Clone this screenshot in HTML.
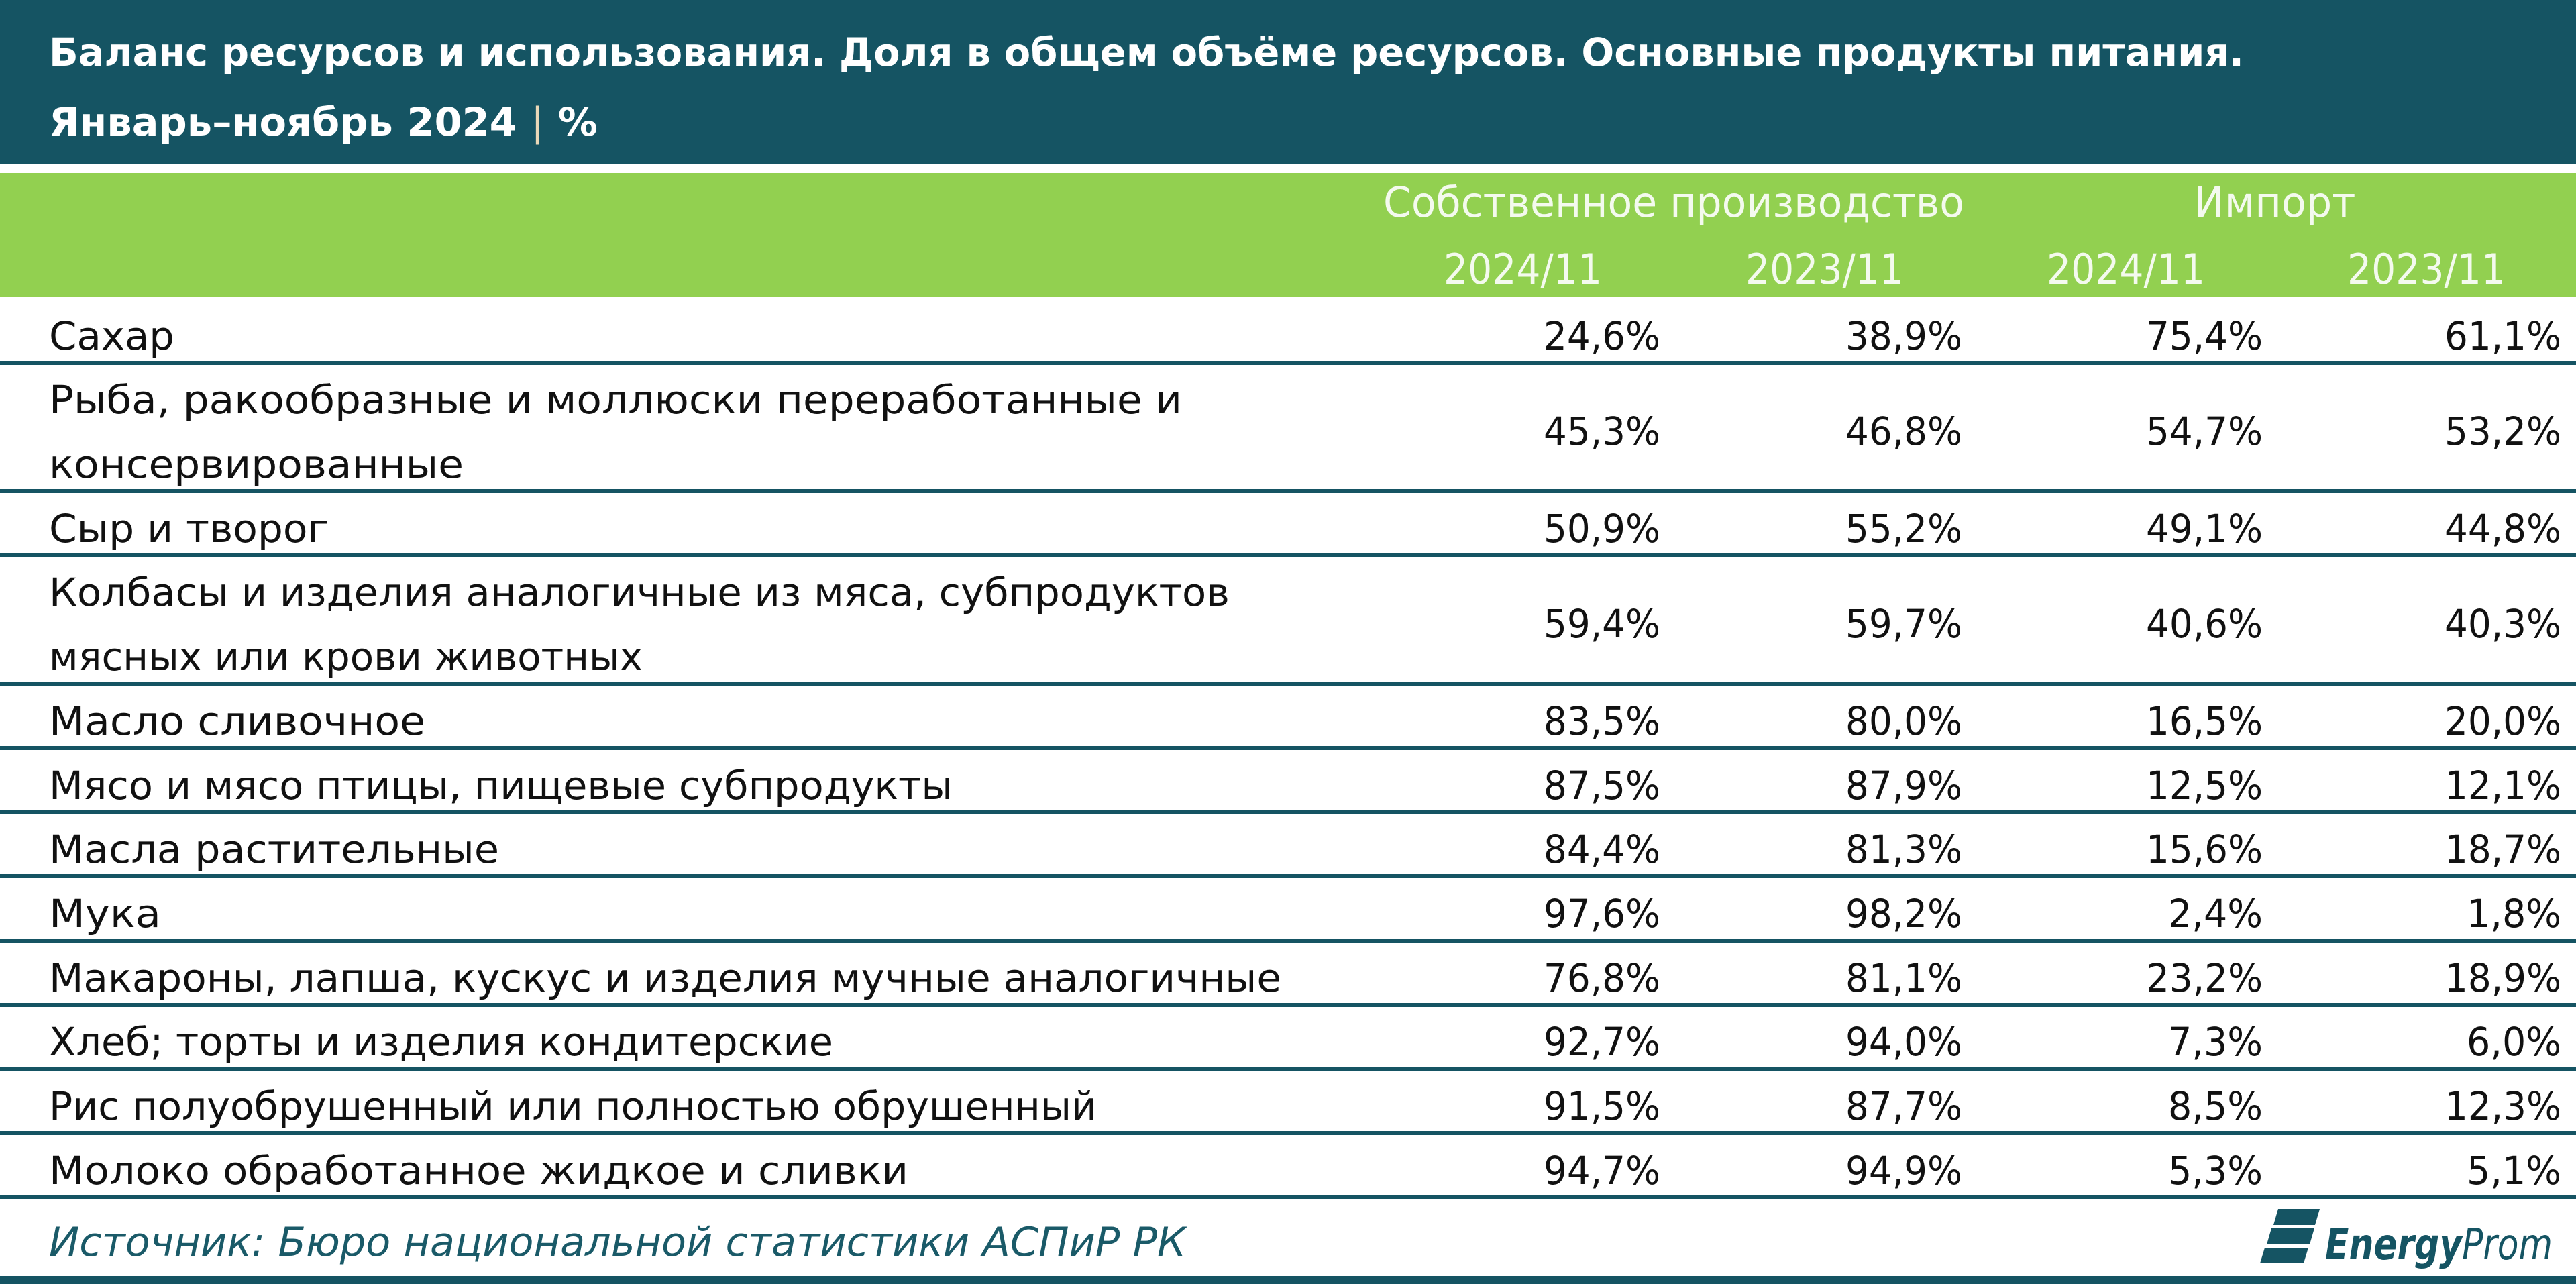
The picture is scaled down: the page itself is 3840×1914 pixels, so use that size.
<!DOCTYPE html>
<html><head><meta charset="utf-8"><style>
html,body{margin:0;padding:0;background:#fff;}
svg{display:block;}
text{font-family:"DejaVu Sans","Liberation Sans",sans-serif;}
.lb{font-size:58px;fill:#111;}
.v{font-size:58px;fill:#111;text-anchor:end;}
.h{font-size:62px;fill:#f4faee;text-anchor:middle;}
</style></head><body>
<svg width="3840" height="1914" viewBox="0 0 3840 1914" xmlns="http://www.w3.org/2000/svg">
<rect x="0" y="0" width="3840" height="1914" fill="#fff"/>
<rect x="0" y="0" width="3840" height="244" fill="#155463"/>
<rect x="0" y="258" width="3840" height="185" fill="#92d050"/>

<text x="73" y="98" font-size="58" font-weight="bold" fill="#fff" textLength="3272" lengthAdjust="spacingAndGlyphs">Баланс ресурсов и использования. Доля в общем объёме ресурсов. Основные продукты питания.</text>
<text x="73" y="202" font-size="58" font-weight="bold" fill="#fff" textLength="818" lengthAdjust="spacingAndGlyphs">Январь–ноябрь 2024 <tspan font-weight="normal" fill="#e9d8b8">|</tspan> %</text>

<text class="h" x="2495" y="323" textLength="866" lengthAdjust="spacingAndGlyphs">Собственное производство</text>
<text class="h" x="3391" y="323" textLength="241" lengthAdjust="spacingAndGlyphs">Импорт</text>
<text class="h" x="2270" y="423" textLength="236" lengthAdjust="spacingAndGlyphs">2024/11</text>
<text class="h" x="2720" y="423" textLength="236" lengthAdjust="spacingAndGlyphs">2023/11</text>
<text class="h" x="3169" y="423" textLength="236" lengthAdjust="spacingAndGlyphs">2024/11</text>
<text class="h" x="3617" y="423" textLength="236" lengthAdjust="spacingAndGlyphs">2023/11</text>

<g fill="#155463">
<rect x="0" y="538" width="3840" height="6"/>
<rect x="0" y="729" width="3840" height="6"/>
<rect x="0" y="825" width="3840" height="6"/>
<rect x="0" y="1016" width="3840" height="6"/>
<rect x="0" y="1112" width="3840" height="6"/>
<rect x="0" y="1208" width="3840" height="6"/>
<rect x="0" y="1303" width="3840" height="6"/>
<rect x="0" y="1399" width="3840" height="6"/>
<rect x="0" y="1495" width="3840" height="6"/>
<rect x="0" y="1590" width="3840" height="6"/>
<rect x="0" y="1686" width="3840" height="6"/>
<rect x="0" y="1782" width="3840" height="6"/>
<rect x="0" y="1902" width="3840" height="12"/>
</g>

<!-- Labels -->
<text class="lb" x="73" y="521" textLength="187" lengthAdjust="spacingAndGlyphs">Сахар</text>
<text class="lb" x="73" y="616" textLength="1689" lengthAdjust="spacingAndGlyphs">Рыба, ракообразные и моллюски переработанные и</text>
<text class="lb" x="73" y="712" textLength="618" lengthAdjust="spacingAndGlyphs">консервированные</text>
<text class="lb" x="73" y="808" textLength="417" lengthAdjust="spacingAndGlyphs">Сыр и творог</text>
<text class="lb" x="73" y="903" textLength="1760" lengthAdjust="spacingAndGlyphs">Колбасы и изделия аналогичные из мяса, субпродуктов</text>
<text class="lb" x="73" y="999" textLength="885" lengthAdjust="spacingAndGlyphs">мясных или крови животных</text>
<text class="lb" x="73" y="1095" textLength="561" lengthAdjust="spacingAndGlyphs">Масло сливочное</text>
<text class="lb" x="73" y="1191" textLength="1347" lengthAdjust="spacingAndGlyphs">Мясо и мясо птицы, пищевые субпродукты</text>
<text class="lb" x="73" y="1286" textLength="671" lengthAdjust="spacingAndGlyphs">Масла растительные</text>
<text class="lb" x="73" y="1382" textLength="167" lengthAdjust="spacingAndGlyphs">Мука</text>
<text class="lb" x="73" y="1478" textLength="1837" lengthAdjust="spacingAndGlyphs">Макароны, лапша, кускус и изделия мучные аналогичные</text>
<text class="lb" x="73" y="1573" textLength="1169" lengthAdjust="spacingAndGlyphs">Хлеб; торты и изделия кондитерские</text>
<text class="lb" x="73" y="1669" textLength="1562" lengthAdjust="spacingAndGlyphs">Рис полуобрушенный или полностью обрушенный</text>
<text class="lb" x="73" y="1765" textLength="1281" lengthAdjust="spacingAndGlyphs">Молоко обработанное жидкое и сливки</text>

<!-- Values -->
<g>
<text class="v" x="2475" y="521" textLength="174" lengthAdjust="spacingAndGlyphs">24,6%</text>
<text class="v" x="2925" y="521" textLength="174" lengthAdjust="spacingAndGlyphs">38,9%</text>
<text class="v" x="3373" y="521" textLength="174" lengthAdjust="spacingAndGlyphs">75,4%</text>
<text class="v" x="3818" y="521" textLength="174" lengthAdjust="spacingAndGlyphs">61,1%</text>

<text class="v" x="2475" y="663" textLength="174" lengthAdjust="spacingAndGlyphs">45,3%</text>
<text class="v" x="2925" y="663" textLength="174" lengthAdjust="spacingAndGlyphs">46,8%</text>
<text class="v" x="3373" y="663" textLength="174" lengthAdjust="spacingAndGlyphs">54,7%</text>
<text class="v" x="3818" y="663" textLength="174" lengthAdjust="spacingAndGlyphs">53,2%</text>

<text class="v" x="2475" y="808" textLength="174" lengthAdjust="spacingAndGlyphs">50,9%</text>
<text class="v" x="2925" y="808" textLength="174" lengthAdjust="spacingAndGlyphs">55,2%</text>
<text class="v" x="3373" y="808" textLength="174" lengthAdjust="spacingAndGlyphs">49,1%</text>
<text class="v" x="3818" y="808" textLength="174" lengthAdjust="spacingAndGlyphs">44,8%</text>

<text class="v" x="2475" y="950" textLength="174" lengthAdjust="spacingAndGlyphs">59,4%</text>
<text class="v" x="2925" y="950" textLength="174" lengthAdjust="spacingAndGlyphs">59,7%</text>
<text class="v" x="3373" y="950" textLength="174" lengthAdjust="spacingAndGlyphs">40,6%</text>
<text class="v" x="3818" y="950" textLength="174" lengthAdjust="spacingAndGlyphs">40,3%</text>

<text class="v" x="2475" y="1095" textLength="174" lengthAdjust="spacingAndGlyphs">83,5%</text>
<text class="v" x="2925" y="1095" textLength="174" lengthAdjust="spacingAndGlyphs">80,0%</text>
<text class="v" x="3373" y="1095" textLength="174" lengthAdjust="spacingAndGlyphs">16,5%</text>
<text class="v" x="3818" y="1095" textLength="174" lengthAdjust="spacingAndGlyphs">20,0%</text>

<text class="v" x="2475" y="1191" textLength="174" lengthAdjust="spacingAndGlyphs">87,5%</text>
<text class="v" x="2925" y="1191" textLength="174" lengthAdjust="spacingAndGlyphs">87,9%</text>
<text class="v" x="3373" y="1191" textLength="174" lengthAdjust="spacingAndGlyphs">12,5%</text>
<text class="v" x="3818" y="1191" textLength="174" lengthAdjust="spacingAndGlyphs">12,1%</text>

<text class="v" x="2475" y="1286" textLength="174" lengthAdjust="spacingAndGlyphs">84,4%</text>
<text class="v" x="2925" y="1286" textLength="174" lengthAdjust="spacingAndGlyphs">81,3%</text>
<text class="v" x="3373" y="1286" textLength="174" lengthAdjust="spacingAndGlyphs">15,6%</text>
<text class="v" x="3818" y="1286" textLength="174" lengthAdjust="spacingAndGlyphs">18,7%</text>

<text class="v" x="2475" y="1382" textLength="174" lengthAdjust="spacingAndGlyphs">97,6%</text>
<text class="v" x="2925" y="1382" textLength="174" lengthAdjust="spacingAndGlyphs">98,2%</text>
<text class="v" x="3373" y="1382" textLength="141" lengthAdjust="spacingAndGlyphs">2,4%</text>
<text class="v" x="3818" y="1382" textLength="141" lengthAdjust="spacingAndGlyphs">1,8%</text>

<text class="v" x="2475" y="1478" textLength="174" lengthAdjust="spacingAndGlyphs">76,8%</text>
<text class="v" x="2925" y="1478" textLength="174" lengthAdjust="spacingAndGlyphs">81,1%</text>
<text class="v" x="3373" y="1478" textLength="174" lengthAdjust="spacingAndGlyphs">23,2%</text>
<text class="v" x="3818" y="1478" textLength="174" lengthAdjust="spacingAndGlyphs">18,9%</text>

<text class="v" x="2475" y="1573" textLength="174" lengthAdjust="spacingAndGlyphs">92,7%</text>
<text class="v" x="2925" y="1573" textLength="174" lengthAdjust="spacingAndGlyphs">94,0%</text>
<text class="v" x="3373" y="1573" textLength="141" lengthAdjust="spacingAndGlyphs">7,3%</text>
<text class="v" x="3818" y="1573" textLength="141" lengthAdjust="spacingAndGlyphs">6,0%</text>

<text class="v" x="2475" y="1669" textLength="174" lengthAdjust="spacingAndGlyphs">91,5%</text>
<text class="v" x="2925" y="1669" textLength="174" lengthAdjust="spacingAndGlyphs">87,7%</text>
<text class="v" x="3373" y="1669" textLength="141" lengthAdjust="spacingAndGlyphs">8,5%</text>
<text class="v" x="3818" y="1669" textLength="174" lengthAdjust="spacingAndGlyphs">12,3%</text>

<text class="v" x="2475" y="1765" textLength="174" lengthAdjust="spacingAndGlyphs">94,7%</text>
<text class="v" x="2925" y="1765" textLength="174" lengthAdjust="spacingAndGlyphs">94,9%</text>
<text class="v" x="3373" y="1765" textLength="141" lengthAdjust="spacingAndGlyphs">5,3%</text>
<text class="v" x="3818" y="1765" textLength="141" lengthAdjust="spacingAndGlyphs">5,1%</text>
</g>

<!-- Footer -->
<text x="73" y="1872" font-size="60" font-style="italic" fill="#1a5a68" textLength="1695" lengthAdjust="spacingAndGlyphs">Источник: Бюро национальной статистики АСПиР РК</text>

<g fill="#155463">
<polygon points="3396,1802 3458,1802 3451,1826 3389,1826"/>
<polygon points="3386,1831 3450,1831 3443,1855 3379,1855"/>
<polygon points="3376,1860 3441,1860 3434,1883 3369,1883"/>
</g>
<text x="3466" y="1877" font-size="64" font-style="italic" fill="#155463" textLength="339" lengthAdjust="spacingAndGlyphs"><tspan font-weight="bold">Energy</tspan>Prom</text>
</svg>
</body></html>
